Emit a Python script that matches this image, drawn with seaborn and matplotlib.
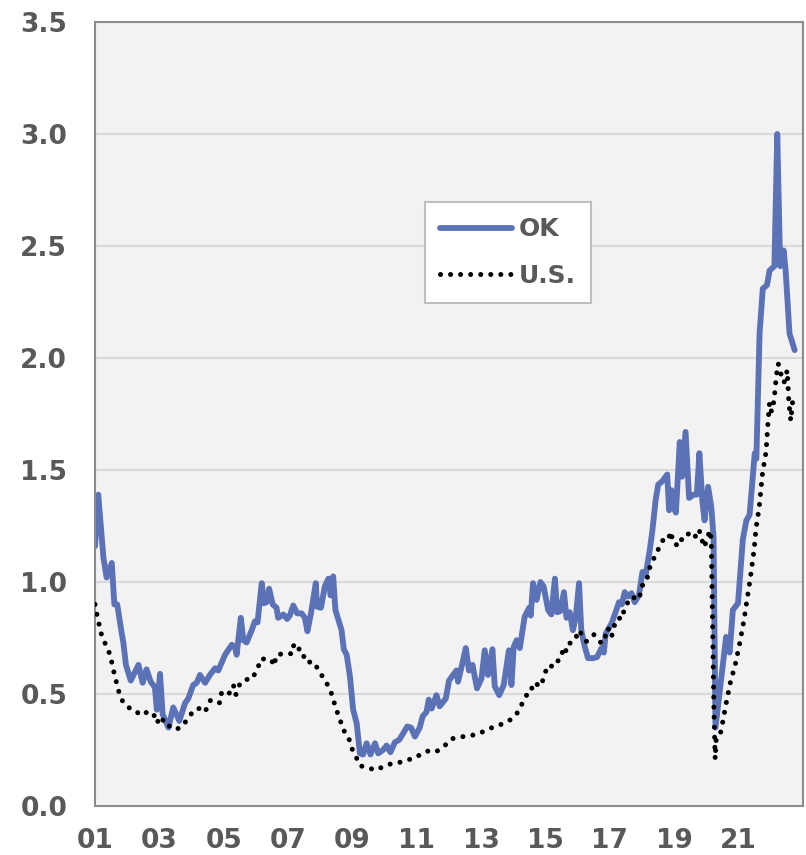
import matplotlib
matplotlib.use('Agg')
import matplotlib.pyplot as plt
import seaborn as sns
from matplotlib.ticker import FixedLocator, MultipleLocator

# OK series (decimal year, value)
ok_year = [2001.00, 2001.10, 2001.26, 2001.36, 2001.52, 2001.60, 2001.69, 2001.83, 2001.88, 2001.96,
           2002.11, 2002.35, 2002.48, 2002.60, 2002.73, 2002.86, 2002.92, 2003.02, 2003.10, 2003.28,
           2003.43, 2003.62, 2003.80, 2003.90, 2004.05, 2004.16, 2004.26, 2004.42, 2004.57, 2004.73,
           2004.83, 2005.04, 2005.25, 2005.35, 2005.40, 2005.53, 2005.61, 2005.71, 2005.87, 2005.97,
           2006.05, 2006.18, 2006.25, 2006.33, 2006.41, 2006.52, 2006.64, 2006.69, 2006.85, 2006.97,
           2007.05, 2007.16, 2007.28, 2007.42, 2007.52, 2007.60, 2007.71, 2007.86, 2007.90, 2008.02,
           2008.14, 2008.25, 2008.32, 2008.40, 2008.47, 2008.66, 2008.73, 2008.82, 2008.92, 2009.02,
           2009.13, 2009.23, 2009.33, 2009.44, 2009.56, 2009.70, 2009.80, 2009.95, 2010.06, 2010.18,
           2010.32, 2010.45, 2010.58, 2010.70, 2010.82, 2010.94, 2011.09, 2011.18, 2011.30, 2011.37,
           2011.46, 2011.61, 2011.71, 2011.90, 2012.00, 2012.13, 2012.23, 2012.28, 2012.42, 2012.52,
           2012.62, 2012.73, 2012.87, 2013.01, 2013.11, 2013.21, 2013.35, 2013.42, 2013.56, 2013.70,
           2013.86, 2013.94, 2014.01, 2014.10, 2014.20, 2014.35, 2014.49, 2014.54, 2014.61, 2014.72,
           2014.84, 2014.94, 2015.08, 2015.18, 2015.29, 2015.36, 2015.46, 2015.57, 2015.65, 2015.75,
           2015.85, 2015.94, 2016.04, 2016.11, 2016.22, 2016.32, 2016.48, 2016.60, 2016.74, 2016.81,
           2016.87, 2017.05, 2017.20, 2017.28, 2017.37, 2017.46, 2017.56, 2017.67, 2017.77, 2017.90,
           2018.01, 2018.11, 2018.24, 2018.32, 2018.42, 2018.50, 2018.63, 2018.78, 2018.84, 2018.91,
           2018.98, 2019.05, 2019.17, 2019.24, 2019.35, 2019.46, 2019.60, 2019.70, 2019.78, 2019.87,
           2019.94, 2020.05, 2020.15, 2020.22, 2020.28, 2020.43, 2020.61, 2020.72, 2020.82, 2020.98,
           2021.13, 2021.24, 2021.34, 2021.50, 2021.55, 2021.65, 2021.75, 2021.88, 2021.96, 2022.11,
           2022.20, 2022.29, 2022.40, 2022.46, 2022.58, 2022.74]
ok_value = [1.16, 1.39, 1.11, 1.02, 1.085, 0.90, 0.90, 0.77, 0.73, 0.63,
            0.56, 0.63, 0.55, 0.61, 0.555, 0.53, 0.43, 0.59, 0.41, 0.35,
            0.44, 0.38, 0.46, 0.48, 0.54, 0.55, 0.585, 0.55, 0.585, 0.615,
            0.605, 0.675, 0.72, 0.71, 0.675, 0.84, 0.74, 0.73, 0.785, 0.825,
            0.82, 0.995, 0.905, 0.91, 0.97, 0.90, 0.885, 0.84, 0.855, 0.835,
            0.85, 0.895, 0.86, 0.86, 0.84, 0.78, 0.86, 0.995, 0.89, 0.885,
            0.98, 1.015, 0.94, 1.025, 0.875, 0.785, 0.70, 0.675, 0.58, 0.43,
            0.37, 0.235, 0.23, 0.28, 0.23, 0.28, 0.235, 0.25, 0.27, 0.24,
            0.285, 0.295, 0.325, 0.355, 0.35, 0.31, 0.35, 0.40, 0.42, 0.475,
            0.435, 0.495, 0.445, 0.48, 0.56, 0.585, 0.605, 0.555, 0.64, 0.705,
            0.605, 0.63, 0.525, 0.57, 0.695, 0.585, 0.70, 0.535, 0.495, 0.54,
            0.695, 0.54, 0.71, 0.74, 0.705, 0.845, 0.885, 0.85, 0.995, 0.92,
            1.00, 0.98, 0.875, 0.855, 1.015, 0.865, 0.87, 0.955, 0.84, 0.865,
            0.785, 0.845, 0.995, 0.785, 0.71, 0.66, 0.66, 0.665, 0.705, 0.685,
            0.77, 0.815, 0.875, 0.91, 0.90, 0.955, 0.935, 0.95, 0.91, 0.94,
            1.045, 1.03, 1.145, 1.23, 1.365, 1.435, 1.45, 1.48, 1.32, 1.41,
            1.33, 1.31, 1.625, 1.47, 1.67, 1.375, 1.39, 1.39, 1.575, 1.365,
            1.275, 1.425, 1.335, 1.20, 0.35, 0.535, 0.755, 0.685, 0.875, 0.905,
            1.19, 1.275, 1.30, 1.575, 1.55, 2.11, 2.31, 2.325, 2.39, 2.41,
            3.00, 2.41, 2.48, 2.39, 2.11, 2.035]

# U.S. series
us_year = [2001.00, 2001.05, 2001.20, 2001.33, 2001.47, 2001.59, 2001.75, 2001.88, 2002.09, 2002.22,
           2002.42, 2002.63, 2002.81, 2002.92, 2003.04, 2003.23, 2003.45, 2003.57, 2003.74, 2003.92,
           2004.14, 2004.31, 2004.42, 2004.57, 2004.67, 2004.88, 2004.93, 2005.14, 2005.30, 2005.37,
           2005.50, 2005.66, 2005.87, 2006.02, 2006.18, 2006.33, 2006.49, 2006.56, 2006.64, 2006.85,
           2007.14, 2007.18, 2007.26, 2007.45, 2007.52, 2007.83, 2007.95, 2008.09, 2008.27, 2008.38,
           2008.48, 2008.61, 2008.69, 2008.87, 2008.97, 2009.11, 2009.23, 2009.49, 2009.73, 2010.01,
           2010.24, 2010.47, 2010.71, 2010.94, 2011.23, 2011.46, 2011.63, 2011.87, 2012.08, 2012.44,
           2012.70, 2012.96, 2013.17, 2013.42, 2013.63, 2013.91, 2014.15, 2014.28, 2014.43, 2014.54,
           2014.61, 2014.87, 2014.95, 2015.10, 2015.25, 2015.36, 2015.49, 2015.55, 2015.65, 2015.77,
           2015.91, 2016.04, 2016.17, 2016.27, 2016.50, 2016.60, 2016.74, 2016.84, 2016.94, 2017.05,
           2017.12, 2017.25, 2017.39, 2017.44, 2017.56, 2017.70, 2017.80, 2017.93, 2018.01, 2018.14,
           2018.20, 2018.32, 2018.45, 2018.55, 2018.71, 2018.82, 2018.90, 2018.96, 2019.15, 2019.28,
           2019.46, 2019.62, 2019.77, 2019.84, 2019.94, 2020.01, 2020.12, 2020.15, 2020.23, 2020.27,
           2020.30, 2020.41, 2020.48, 2020.60, 2020.74, 2020.90, 2021.03, 2021.16, 2021.26, 2021.37,
           2021.48, 2021.54, 2021.64, 2021.74, 2021.85, 2021.92, 2021.96, 2022.02, 2022.10, 2022.17,
           2022.23, 2022.31, 2022.41, 2022.51, 2022.56, 2022.62, 2022.70]
us_value = [0.90, 0.86, 0.765, 0.72, 0.675, 0.595, 0.505, 0.46, 0.435, 0.43,
            0.405, 0.42, 0.415, 0.37, 0.40, 0.355, 0.36, 0.345, 0.36, 0.40,
            0.435, 0.435, 0.42, 0.47, 0.475, 0.46, 0.505, 0.495, 0.54, 0.495,
            0.545, 0.565, 0.565, 0.605, 0.66, 0.65, 0.65, 0.625, 0.675, 0.68,
            0.68, 0.725, 0.705, 0.695, 0.645, 0.64, 0.60, 0.575, 0.53, 0.49,
            0.435, 0.39, 0.345, 0.31, 0.26, 0.22, 0.18, 0.17, 0.16, 0.18,
            0.19, 0.195, 0.205, 0.215, 0.24, 0.25, 0.245, 0.27, 0.30, 0.31,
            0.315, 0.325, 0.34, 0.355, 0.365, 0.385, 0.42, 0.46, 0.50, 0.505,
            0.55, 0.535, 0.585, 0.63, 0.62, 0.645, 0.66, 0.71, 0.69, 0.73,
            0.74, 0.785, 0.755, 0.735, 0.765, 0.75, 0.725, 0.75, 0.795, 0.755,
            0.80, 0.84, 0.835, 0.88, 0.91, 0.91, 0.95, 0.94, 0.985, 1.00,
            1.05, 1.095, 1.125, 1.165, 1.20, 1.195, 1.225, 1.175, 1.16, 1.21,
            1.215, 1.195, 1.235, 1.195, 1.155, 1.195, 1.23, 1.17, 0.445, 0.21,
            0.295, 0.31, 0.355, 0.45, 0.55, 0.635, 0.725, 0.825, 0.92, 1.025,
            1.145, 1.24, 1.335, 1.485, 1.58, 1.73, 1.80, 1.76, 1.81, 1.92,
            1.975, 1.93, 1.89, 1.945, 1.80, 1.72, 1.84]

x_tick_years = [2001, 2003, 2005, 2007, 2009, 2011, 2013, 2015, 2017, 2019, 2021]
x_tick_labels = ['01', '03', '05', '07', '09', '11', '13', '15', '17', '19', '21']
y_ticks = [0.0, 0.5, 1.0, 1.5, 2.0, 2.5, 3.0, 3.5]

ok_color = '#5b72b7'
text_color = '#595959'
spine_color = '#8c8c8c'

sns.set_style('white')
plt.rcParams['font.family'] = ['DejaVu Sans']

fig = plt.figure(figsize=(8.06, 8.55), dpi=100)
ax = fig.add_axes([0.1179, 0.0573, 0.8784, 0.9170])
ax.set_facecolor('#f2f2f2')

sns.lineplot(x=us_year, y=us_value, ax=ax, color='black', linewidth=3.6,
             linestyle=(0, (0.01, 2.0)), dash_capstyle='round', label='U.S.',
             sort=False, estimator=None, zorder=3)
sns.lineplot(x=ok_year, y=ok_value, ax=ax, color=ok_color, linewidth=4.2,
             label='OK', sort=False, estimator=None, zorder=2,
             solid_joinstyle='round')

ax.set_xlim(2001, 2023)
ax.set_ylim(0, 3.5)
ax.set_xlabel('')
ax.set_ylabel('')

ax.set_yticks(y_ticks)
ax.set_yticklabels([f'{v:.1f}' for v in y_ticks])
ax.yaxis.grid(True, color='#d9d9d9', linewidth=1.5, zorder=0)
ax.set_axisbelow(True)

ax.xaxis.set_major_locator(FixedLocator(x_tick_years))
ax.set_xticklabels(x_tick_labels)
ax.xaxis.set_minor_locator(MultipleLocator(1))

ax.tick_params(axis='x', which='major', direction='inout', length=13, width=1.5,
               color=spine_color, pad=9, labelsize=19, labelcolor=text_color)
ax.tick_params(axis='x', which='minor', direction='out', length=6.5, width=1.5,
               color=spine_color)
ax.tick_params(axis='y', length=0, pad=20, labelsize=19, labelcolor=text_color)
for lab in ax.get_xticklabels() + ax.get_yticklabels():
    lab.set_fontweight('bold')

for side in ['left', 'right', 'top', 'bottom']:
    ax.spines[side].set_visible(True)
    ax.spines[side].set_color(spine_color)
    ax.spines[side].set_linewidth(1.5)

handles, labels = ax.get_legend_handles_labels()
order = [labels.index('OK'), labels.index('U.S.')]
leg = ax.legend([handles[i] for i in order], [labels[i] for i in order],
                loc='upper left', bbox_to_anchor=(0.466, 0.770),
                frameon=True, fancybox=False, framealpha=1, edgecolor='#bfbfbf',
                facecolor='white', prop={'size': 18, 'weight': 'bold'},
                handlelength=2.9, handletextpad=0.25, borderpad=0.6,
                labelspacing=0.9, borderaxespad=0)
leg.get_frame().set_linewidth(1.5)
for t in leg.get_texts():
    t.set_color(text_color)

fig.savefig('out.png', dpi=100)
